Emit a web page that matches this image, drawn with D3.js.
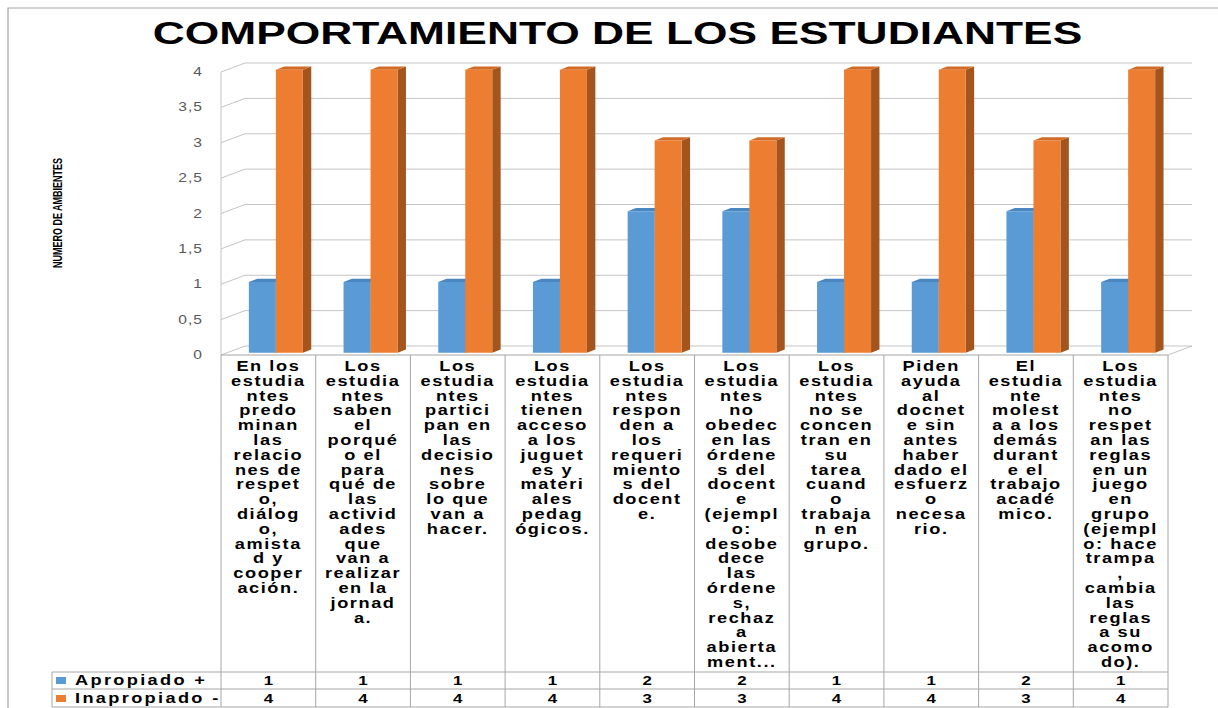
<!DOCTYPE html>
<html>
<head>
<meta charset="utf-8">
<script src="https://cdn.jsdelivr.net/npm/d3@7"></script>
<style>
  html, body { margin: 0; padding: 0; background: #ffffff; }
  svg { display: block; }
  text { font-family: "Liberation Sans", Arial, sans-serif; }
</style>
</head>
<body>
<script>
// ---------------- DATA ----------------
const title = "COMPORTAMIENTO DE LOS ESTUDIANTES";
const yAxisTitle = "NUMERO DE AMBIENTES";
const categories = [
  "En los|estudia|ntes|predo|minan|las|relacio|nes de|respet|o,|diálog|o,|amista|d y|cooper|ación.",
  "Los|estudia|ntes|saben|el|porqué|o el|para|qué de|las|activid|ades|que|van a|realizar|en la|jornad|a.",
  "Los|estudia|ntes|partici|pan en|las|decisio|nes|sobre|lo que|van a|hacer.",
  "Los|estudia|ntes|tienen|acceso|a los|juguet|es y|materi|ales|pedag|ógicos.",
  "Los|estudia|ntes|respon|den a|los|requeri|miento|s del|docent|e.",
  "Los|estudia|ntes|no|obedec|en las|órdene|s del|docent|e|(ejempl|o:|desobe|dece|las|órdene|s,|rechaz|a|abierta|ment...",
  "Los|estudia|ntes|no se|concen|tran en|su|tarea|cuand|o|trabaja|n en|grupo.",
  "Piden|ayuda|al|docnet|e sin|antes|haber|dado el|esfuerz|o|necesa|rio.",
  "El|estudia|nte|molest|a a los|demás|durant|e el|trabajo|acadé|mico.",
  "Los|estudia|ntes|no|respet|an las|reglas|en un|juego|en|grupo|(ejempl|o: hace|trampa|,|cambia|las|reglas|a su|acomo|do)."
];
const seriesNames = ["Apropiado +", "Inapropiado -"];
const apropiado   = [1, 1, 1, 1, 2, 2, 1, 1, 2, 1];
const inapropiado = [4, 4, 4, 4, 3, 3, 4, 4, 3, 4];
const yTicks = [0, 0.5, 1, 1.5, 2, 2.5, 3, 3.5, 4];
const yTickLabels = ["0", "0,5", "1", "1,5", "2", "2,5", "3", "3,5", "4"];

// ---------------- LAYOUT ----------------
const W = 1218, H = 708;
const SX = 1.3; // horizontal text stretch
const svg = d3.select("body").append("svg").attr("width", W).attr("height", H);

const colors = {
  front: ["#5B9BD5", "#ED7D31"],
  top:   ["#4A86C0", "#D16A24"],
  side:  ["#3F6F9E", "#A4541D"]
};

const px0 = 221, px1 = 1168;
const DX = 24, DY = 9;
const x = d3.scaleBand().domain(d3.range(categories.length)).range([px0, px1]);
const bw = x.bandwidth();
const y = d3.scaleLinear().domain([0, 4]).range([355, 72]);

function stext(g, xx, yy, str, o) {
  o = o || {};
  const t = g.append("text")
    .attr("transform", `translate(${xx},${yy}) scale(${o.sx || SX},1)`)
    .attr("text-anchor", o.anchor || "middle")
    .attr("font-size", o.size || 13)
    .attr("font-weight", o.weight || "bold")
    .attr("fill", o.fill || "#000")
    .style("letter-spacing", (o.ls != null ? o.ls : 1.5) + "px")
    .text(str);
  return t;
}

// frame
svg.append("path").attr("d", `M8,${H} L8,8 L${W},8`).attr("fill", "none")
  .attr("stroke", "#A6A6A6").attr("stroke-width", 1.2);

// title
const tt = svg.append("text")
  .attr("x", 0).attr("y", 0)
  .attr("text-anchor", "middle")
  .attr("font-size", 32).attr("font-weight", "bold").attr("fill", "#000")
  .text(title);
const tw = tt.node().getComputedTextLength();
tt.attr("transform", `translate(617.5,44) scale(${930 / tw},1)`);

// y axis title
svg.append("text")
  .attr("transform", "translate(61.5,213) rotate(-90)")
  .attr("text-anchor", "middle")
  .style("font-family", "'Liberation Sans Narrow', 'Liberation Sans', sans-serif")
  .attr("font-size", 13.5)
  .attr("font-weight", "bold")
  .attr("textLength", 110).attr("lengthAdjust", "spacingAndGlyphs")
  .attr("fill", "#000")
  .text(yAxisTitle);

// gridlines (side wall diagonal + back wall)
const grid = svg.append("g").attr("fill", "none").attr("stroke", "#C4C4C4").attr("stroke-width", 1);
yTicks.forEach(v => {
  grid.append("path").attr("d",
    `M${px0},${y(v)} L${px0 + DX},${y(v) - DY} L${px1 + DX},${y(v) - DY}`);
});
grid.append("line").attr("x1", px0).attr("x2", px0).attr("y1", y(4)).attr("y2", y(0));
grid.append("path").attr("d", `M${px1},${y(0)} L${px1 + DX},${y(0) - DY}`);

// y tick labels
const tl = svg.append("g");
yTicks.forEach((v, i) => {
  stext(tl, 203, y(v) + 4, yTickLabels[i], { anchor: "end", size: 12, weight: "normal", fill: "#595959", ls: 0.8 });
});

// bars
const d0 = 0.25, dep = 0.35;
const barW = 27;
const series = [apropiado, inapropiado];
const bars = svg.append("g");
categories.forEach((c, i) => {
  const gx = x(i) + (bw - 2 * barW) / 2 + 1.5 + DX * d0;
  series.forEach((vals, s) => {
    const v = vals[i];
    const xa = gx + s * barW, xb = xa + barW;
    const yt = y(v) - DY * d0, yb = y(0) - DY * d0;
    const ddx = DX * dep, ddy = DY * dep;
    bars.append("path").attr("fill", colors.side[s])
      .attr("d", `M${xb},${yt} L${xb + ddx},${yt - ddy} L${xb + ddx},${yb - ddy} L${xb},${yb} Z`);
    bars.append("path").attr("fill", colors.top[s])
      .attr("d", `M${xa},${yt} L${xb},${yt} L${xb + ddx},${yt - ddy} L${xa + ddx},${yt - ddy} Z`);
    bars.append("rect").attr("fill", colors.front[s])
      .attr("x", xa).attr("y", yt).attr("width", barW).attr("height", yb - yt);
  });
});

// data table
const tb = svg.append("g");
const tStroke = "#A6A6A6";
const rowTop = 672, rowMid = 689, rowBot = 707, legL = 52;
tb.append("line").attr("x1", px0).attr("x2", px1).attr("y1", y(0)).attr("y2", y(0)).attr("stroke", tStroke);
d3.range(categories.length + 1).forEach(i => {
  const xx = px0 + i * bw;
  tb.append("line").attr("x1", xx).attr("x2", xx).attr("y1", y(0)).attr("y2", rowBot).attr("stroke", tStroke);
});
[rowTop, rowMid, rowBot].forEach(yy => {
  tb.append("line").attr("x1", legL).attr("x2", px1).attr("y1", yy).attr("y2", yy).attr("stroke", tStroke);
});
tb.append("line").attr("x1", legL).attr("x2", legL).attr("y1", rowTop).attr("y2", rowBot).attr("stroke", tStroke);

// category labels
categories.forEach((c, i) => {
  const cx = x(i) + bw / 2;
  c.split("|").forEach((ln, k) => {
    stext(tb, cx, 370.9 + k * 14.8, ln, { size: 14, ls: 1.2 });
  });
});

// legend + values
const rowsY = [685, 703];
series.forEach((vals, s) => {
  tb.append("rect").attr("x", 56).attr("y", rowsY[s] - 8).attr("width", 10).attr("height", 7)
    .attr("fill", colors.front[s]);
  stext(tb, 75, rowsY[s], seriesNames[s], { anchor: "start", size: 14, ls: 1.8 });
  vals.forEach((v, i) => {
    stext(tb, x(i) + bw / 2, rowsY[s], String(v), { size: 13, ls: 0 });
  });
});
</script>
</body>
</html>
